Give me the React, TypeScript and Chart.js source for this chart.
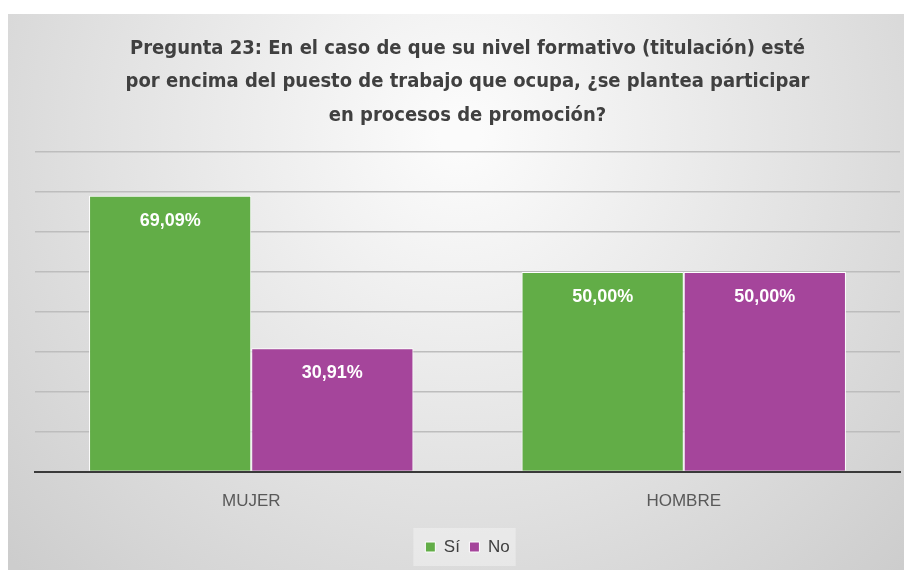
import React, { useEffect, useRef } from "react";
import { Chart, registerables } from "chart.js";

Chart.register(...registerables);

const categories = ["MUJER", "HOMBRE"];
const siValues = [69.09, 50.0];
const noValues = [30.91, 50.0];
const seriesNames = ["Sí", "No"];
const titleLines = [
  "Pregunta 23: En el caso de que su nivel formativo (titulación) esté",
  "por encima del puesto de trabajo que ocupa, ¿se plantea participar",
  "en procesos de promoción?",
];

const GREEN = "#62ad47";
const PURPLE = "#a5459b";

const bgPlugin = {
  id: "bgPlugin",
  beforeDraw(chart: any) {
    const { ctx, width, height } = chart;
    ctx.save();
    const g = ctx.createRadialGradient(width / 2, 120, 20, width / 2, 120, 620);
    g.addColorStop(0, "#fbfbfb");
    g.addColorStop(0.55, "#e2e2e2");
    g.addColorStop(1, "#cdcdcd");
    ctx.fillStyle = g;
    ctx.fillRect(0, 0, width, height);
    const lg = chart.legend;
    if (lg && lg.legendHitBoxes && lg.legendHitBoxes.length) {
      const boxes = lg.legendHitBoxes;
      const x0 = boxes[0].left - 12;
      const x1 = boxes[boxes.length - 1].left + boxes[boxes.length - 1].width + 6;
      const cy = boxes[0].top + boxes[0].height / 2;
      ctx.fillStyle = "rgba(255,255,255,0.35)";
      ctx.fillRect(x0, cy - 19, x1 - x0, 38);
    }
    ctx.restore();
  },
};

const labelPlugin = {
  id: "labelPlugin",
  afterDatasetsDraw(chart: any) {
    const { ctx } = chart;
    ctx.save();
    ctx.fillStyle = "#ffffff";
    ctx.font = "bold 18px 'Liberation Sans', Arial, sans-serif";
    ctx.textAlign = "center";
    ctx.textBaseline = "middle";
    chart.data.datasets.forEach((ds: any, di: number) => {
      const meta = chart.getDatasetMeta(di);
      meta.data.forEach((bar: any, i: number) => {
        const v = ds.data[i] as number;
        const txt = v.toFixed(2).replace(".", ",") + "%";
        ctx.fillText(txt, bar.x, bar.y + 25);
      });
    });
    ctx.restore();
  },
};

export default function App() {
  const ref = useRef<HTMLCanvasElement | null>(null);
  useEffect(() => {
    if (!ref.current) return;
    const chart = new Chart(ref.current, {
      type: "bar",
      data: {
        labels: categories,
        datasets: [
          {
            label: seriesNames[0],
            data: siValues,
            backgroundColor: GREEN,
            borderColor: "#ffffff",
            borderWidth: 1,
          },
          {
            label: seriesNames[1],
            data: noValues,
            backgroundColor: PURPLE,
            borderColor: "#ffffff",
            borderWidth: 1,
          },
        ],
      },
      options: {
        animation: false,
        responsive: false,
        maintainAspectRatio: false,
        layout: { padding: { left: 27, right: 12, top: 0, bottom: 4.5 } },
        datasets: {
          bar: { categoryPercentage: 0.75, barPercentage: 1.0 },
        },
        scales: {
          x: {
            grid: { display: false },
            border: { display: true, color: "#3a3a3a", width: 2 },
            ticks: {
              color: "#595959",
              font: { size: 17, family: "'Liberation Sans', Arial, sans-serif" },
              padding: 12,
            },
            afterFit: (scale: any) => {
              scale.height += 5;
            },
          },
          y: {
            min: 0,
            max: 80,
            ticks: { display: false, stepSize: 10 },
            border: { display: false },
            grid: { color: "#bdbdbd", lineWidth: 1.5, drawTicks: false },
          },
        },
        plugins: {
          title: {
            display: true,
            text: titleLines,
            color: "#404040",
            font: {
              size: 20,
              weight: "bold",
              family: "'Liberation Sans Narrow', 'DejaVu Sans Condensed', Arial, sans-serif",
              lineHeight: 1.67,
            },
            padding: { top: 18, bottom: 20 },
          },
          legend: {
            position: "bottom",
            labels: {
              color: "#404040",
              boxWidth: 10,
              boxHeight: 10,
              padding: 9.5,
              font: { size: 17, family: "'Liberation Sans', Arial, sans-serif" },
            },
          },
          tooltip: { enabled: false },
        },
      },
      plugins: [bgPlugin, labelPlugin],
    });
    return () => chart.destroy();
  }, []);
  return (
    <div style={{ width: 904, height: 556, marginTop: 6 }}>
      <canvas ref={ref} width={904} height={556} style={{ display: "block" }} />
    </div>
  );
}
